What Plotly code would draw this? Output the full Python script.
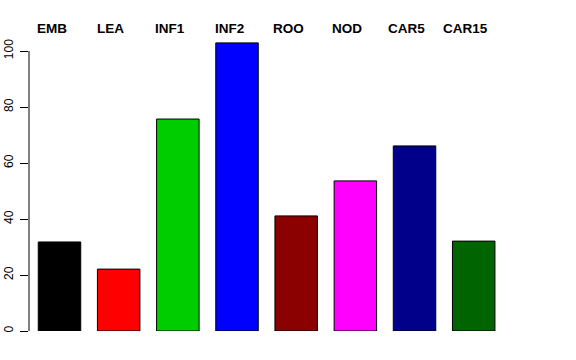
import plotly.graph_objects as go

categories = ["EMB", "LEA", "INF1", "INF2", "ROO", "NOD", "CAR5", "CAR15"]
values = [31.8, 22.1, 75.7, 102.9, 41.1, 53.6, 66.1, 32.1]
colors = ["#000000", "#FF0000", "#00CD00", "#0000FF", "#8B0000", "#FF00FF", "#00008B", "#006400"]
y_ticks = [0, 20, 40, 60, 80, 100]

positions = list(range(len(categories)))
# header labels sit slightly left of the bar centres (as in the original)
label_positions = [p - 0.135 for p in positions]

fig = go.Figure()
fig.add_trace(go.Bar(
    x=positions, y=values, width=0.718,
    marker=dict(color=colors, line=dict(color="#000000", width=1)),
    showlegend=False, hoverinfo="skip",
))

for p, c in zip(label_positions, categories):
    fig.add_annotation(x=p, y=1.029, xref="x", yref="paper", text="<b>%s</b>" % c,
                       showarrow=False, font=dict(family="Liberation Sans", size=13.5, color="#000000"),
                       xanchor="center", yanchor="middle")

# y axis line from 0 to 100 (R style)
fig.add_shape(type="line", xref="paper", yref="y", x0=0, x1=0, y0=0, y1=100,
              line=dict(color="#000000", width=1))

fig.update_layout(
    width=576, height=360,
    margin=dict(l=29, r=0, t=37, b=29, autoexpand=False),
    paper_bgcolor="white", plot_bgcolor="white",
    xaxis=dict(range=[-0.5155, 8.729], showgrid=False, zeroline=False, showticklabels=False,
               showline=False, ticks="", automargin=False),
    yaxis=dict(range=[0, 105], tickvals=y_ticks, ticktext=[str(v) for v in y_ticks],
               showgrid=False, zeroline=False, showline=False, ticks="outside", ticklen=8,
               tickcolor="#000000", tickangle=-90, ticklabelstandoff=2, automargin=False,
               tickfont=dict(family="Liberation Sans", size=12, color="#000000")),
    font=dict(family="Liberation Sans"),
)

fig.write_html("out.html", post_script="document.body.style.margin='0';",
               config={"displayModeBar": False})
